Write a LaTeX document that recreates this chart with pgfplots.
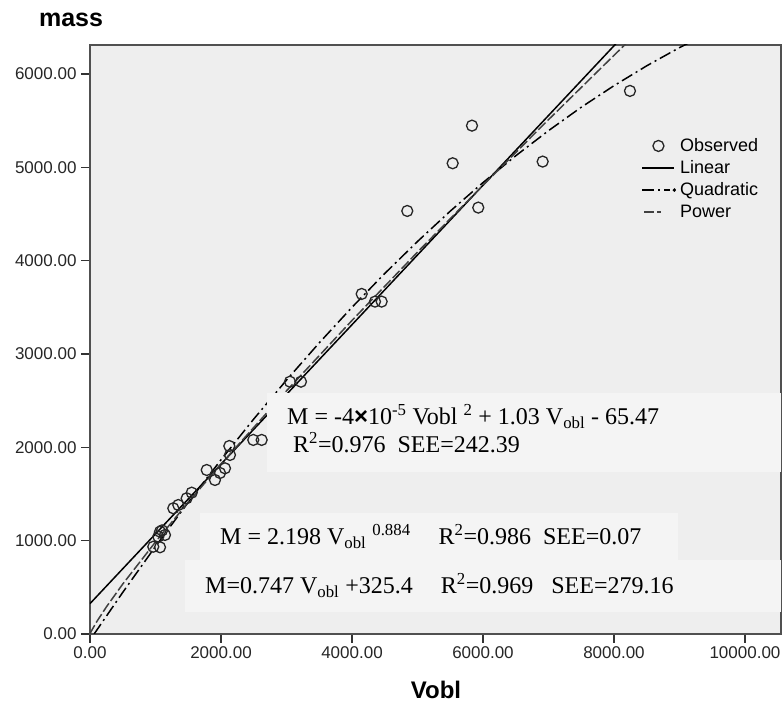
\documentclass[border=0pt]{standalone}
\usepackage{fontspec}
\setmainfont{Liberation Serif}
\setsansfont{Liberation Sans}
\usepackage{pgfplots}
\pgfplotsset{compat=1.18}
\definecolor{plotbg}{HTML}{EEEEEE}
\definecolor{boxbg}{HTML}{F4F4F4}
\definecolor{framec}{HTML}{505050}
\pgfplotsset{
  linelegend/.style={legend image code/.code={\draw[##1] (0pt,0pt) -- (32pt,0pt);}},
  marklegend/.style={legend image code/.code={\draw[##1] plot[only marks] coordinates {(16pt,0pt)};}},
}

\begin{document}
\begin{tikzpicture}
\path[use as bounding box] (-90pt,-75pt) rectangle (692pt,634pt);
\begin{axis}[
  at={(0pt,0pt)}, anchor=south west,
  scale only axis, width=691pt, height=589pt,
  xmin=0, xmax=10550, ymin=0, ymax=6310,
  scaled x ticks=false, scaled y ticks=false,
  axis background/.style={fill=plotbg},
  axis line style={framec, line width=1.6pt},
  tick style={black!80, line width=1.3pt},
  major tick length=9pt,
  tick align=outside,
  xtick pos=left, ytick pos=left,
  xtick={0,2000,4000,6000,8000,10000},
  xticklabels={0.00,2000.00,4000.00,6000.00,8000.00,10000.00},
  ytick={0,1000,2000,3000,4000,5000,6000},
  yticklabels={0.00,1000.00,2000.00,3000.00,4000.00,5000.00,6000.00},
  ticklabel style={font=\sffamily\fontsize{17}{20}\selectfont, text=black!85},
  yticklabel style={xshift=-1pt},
  legend style={at={(axis cs:8420,5330)}, anchor=north west, draw=none, fill=none,
    font=\sffamily\fontsize{18}{20}\selectfont, cells={anchor=west}, row sep=3.5pt, inner sep=0pt,
    nodes={inner xsep=4pt}},
]
\addplot[only marks, mark=o, mark size=5.5pt, mark options={line width=1.3pt, black!85}, marklegend]
  coordinates {
  (966,935) (1069,929) (1043,1043) (1145,1061) (1069,1096) (1100,1110)
  (1272,1347) (1348,1382) (1476,1454) (1553,1514)
  (1782,1757) (1908,1650) (1985,1725) (2061,1775) (2127,2014) (2137,1918)
  (2493,2079) (2621,2079) (3053,2703) (3221,2703)
  (4148,3643) (4351,3561) (4453,3561) (4844,4532) (5537,5043) (5832,5446)
  (5928,4568) (6911,5061) (8244,5818)
  };
\addlegendentry{Observed}
\addplot[black, line width=1.5pt, linelegend]
  coordinates {(0,325.4) (8500,6675)};
\addlegendentry{Linear}
\addplot[black, line width=1.5pt, dash pattern=on 12pt off 4pt on 2pt off 4pt,
  legend image code/.code={\draw[black, line width=1.5pt] (0pt,0pt) -- (28pt,0pt); \fill[black] (32pt,0pt) circle (0.9pt);}]
  coordinates {(63,0) (500,446) (1000,938) (1500,1411) (2000,1866) (2500,2303)
  (3000,2720) (3500,3119) (4000,3500) (4500,3862) (5000,4205) (5500,4530)
  (6000,4836) (6500,5123) (7000,5392) (7500,5643) (8000,5874) (8500,6087)
  (9000,6282) (9500,6458)};
\addlegendentry{Quadratic}
\addplot[black!75, line width=1.5pt, dash pattern=on 10pt off 3pt,
  legend image code/.code={\draw[black!75, line width=1.8pt] (2pt,0pt) -- (19pt,0pt);}]
  coordinates {(0,0) (20,31) (100,129) (250,290) (500,535) (1000,986) (1500,1412)
  (2000,1820) (3000,2605) (4000,3359) (5000,4091) (6000,4807) (7000,5510)
  (8000,6199) (8500,6541)};
\addlegendentry{Power}
\fill[boxbg] (axis cs:2702,1736) rectangle (axis cs:10550,2582);
\fill[boxbg] (axis cs:1679,793) rectangle (axis cs:8977,1297);
\fill[boxbg] (axis cs:1450,236) rectangle (axis cs:10550,793);
\node[anchor=base west, inner sep=0pt, font=\fontsize{24}{27}\selectfont] at (axis cs:3008,2239)
  {M = -4{\bfseries\fontspec{Liberation Sans}×}10\textsuperscript{-5} Vobl \textsuperscript{2} + 1.03 V\textsubscript{obl} - 65.47};
\node[anchor=base west, inner sep=0pt, font=\fontsize{24}{27}\selectfont] at (axis cs:3099,1943)
  {R\textsuperscript{2}=0.976\ \ SEE=242.39};
\node[anchor=base west, inner sep=0pt, font=\fontsize{24}{27}\selectfont] at (axis cs:1985,954)
  {M = 2.198 V\textsubscript{obl} \textsuperscript{0.884}\hspace{28pt}R\textsuperscript{2}=0.986\ \ SEE=0.07};
\node[anchor=base west, inner sep=0pt, font=\fontsize{24}{27}\selectfont] at (axis cs:1756,436)
  {M=0.747 V\textsubscript{obl} +325.4\hspace{28pt}R\textsuperscript{2}=0.969\ \ \ SEE=279.16};
\end{axis}
\node[font=\sffamily\bfseries\fontsize{25}{28}\selectfont] at (-19pt,614pt) {mass};
\node[font=\sffamily\bfseries\fontsize{24}{28}\selectfont] at (346pt,-56pt) {Vobl};
\end{tikzpicture}
\end{document}
